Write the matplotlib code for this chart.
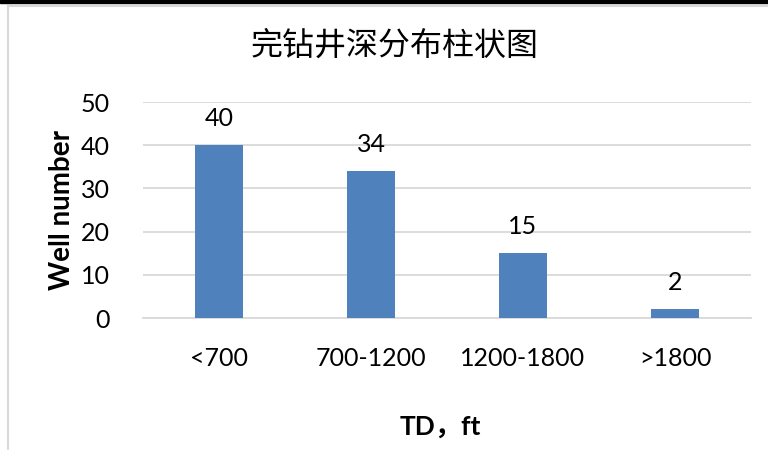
import matplotlib
matplotlib.use('Agg')
import matplotlib.pyplot as plt
from matplotlib.lines import Line2D
from matplotlib.patches import Rectangle
import numpy as np

plt.rcParams['font.family'] = ['Lato', 'Noto Sans CJK SC', 'DejaVu Sans']

categories = ['<700', '700-1200', '1200-1800', '>1800']
wells = [40, 34, 15, 2]
yticks = [0, 10, 20, 30, 40, 50]
title = '完钻井深分布柱状图'
xlabel = 'TD，ft'
ylabel = 'Well number'

bar_color = '#4F81BD'
grid_color = '#D9D9D9'

fig = plt.figure(figsize=(7.68, 4.5), dpi=100)
ax = fig.add_axes([143/768, 1 - 318/450, 608/768, 216/450])

x = np.arange(len(categories))
bars = ax.bar(x, wells, width=0.316, color=bar_color, zorder=3)
ax.set_xlim(-0.5, len(categories) - 0.5)
ax.set_ylim(0, 50)
ax.set_yticks(yticks)
ax.set_xticks(x)
ax.set_xticklabels(categories)
ax.yaxis.grid(True, color=grid_color, linewidth=1.3, zorder=0)
for s in ['top', 'right', 'left']:
    ax.spines[s].set_visible(False)
ax.spines['bottom'].set_color(grid_color)
ax.spines['bottom'].set_linewidth(1.3)
ax.tick_params(axis='both', length=0, labelsize=18)
ax.tick_params(axis='x', pad=21)
ax.tick_params(axis='y', pad=24)

for b, v in zip(bars, wells):
    ax.annotate(str(v), (b.get_x() + b.get_width() / 2, v), xytext=(0, 11),
                textcoords='offset points', ha='center', va='bottom', fontsize=18)

fig.text(395/768, 1 - 46/450, title, ha='center', va='center', fontsize=23,
         family=['Noto Sans CJK SC', 'DejaVu Sans'])
fig.text(440/768, 1 - 427/450, xlabel, ha='center', va='center', fontsize=19,
         fontweight='bold')
fig.text(62/768, 1 - 210/450, ylabel, ha='center', va='center', fontsize=20,
         fontweight='bold', rotation=90)

# outer frame of the screenshot
fig.patches.append(Rectangle((0, 1 - 3/450), 1, 3/450, transform=fig.transFigure,
                             color='black', zorder=5))
fig.add_artist(Line2D([7.5/768, 1], [1 - 6/450, 1 - 6/450], color=grid_color,
                      linewidth=1.5, transform=fig.transFigure))
fig.add_artist(Line2D([7.5/768, 7.5/768], [0, 1 - 6/450], color=grid_color,
                      linewidth=1.5, transform=fig.transFigure))

fig.savefig('out.png', dpi=100)
